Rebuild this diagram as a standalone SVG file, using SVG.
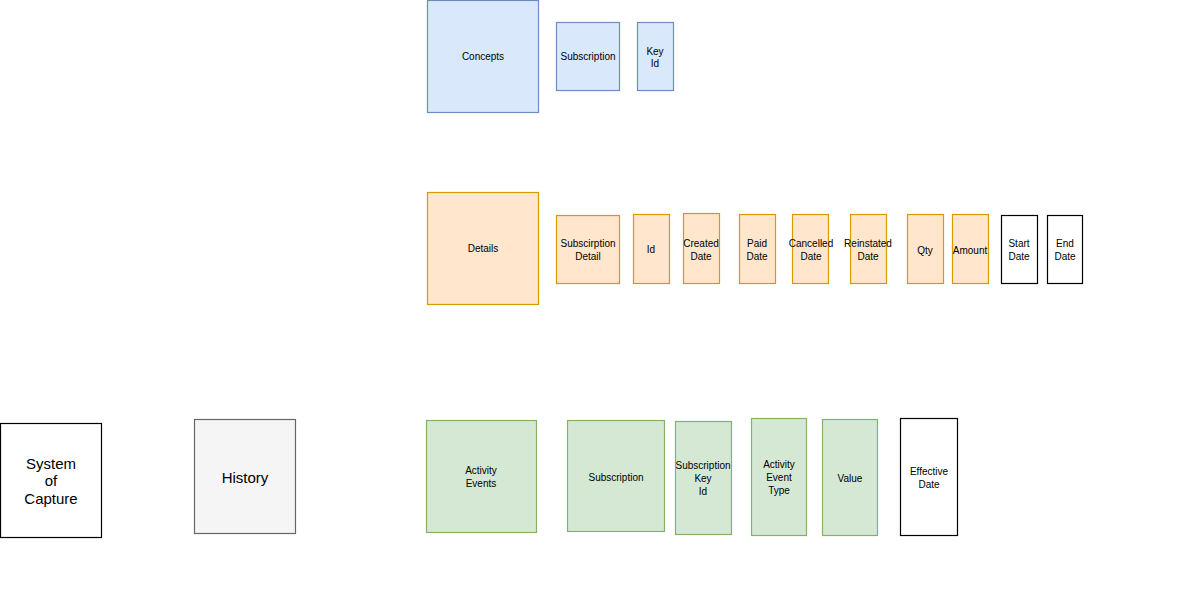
<svg xmlns="http://www.w3.org/2000/svg" width="1200" height="600" viewBox="0 0 1200 600">
<style>
.blue{fill:#dae8fc;stroke:#6c8ebf;stroke-width:1.2}
.orange{fill:#ffe6cc;stroke:#d79b00;stroke-width:1.2}
.green{fill:#d5e8d4;stroke:#82b366;stroke-width:1.2}
.white{fill:#ffffff;stroke:#000000;stroke-width:1.2}
.grey{fill:#f5f5f5;stroke:#666666;stroke-width:1.2}
text{font-family:"Liberation Sans",Arial,sans-serif;font-size:10px;fill:#000;text-anchor:middle}
.big{font-size:15px}
</style>
<rect width="1200" height="600" fill="#ffffff"/>
<g id="concepts"><rect class="blue" x="427.5" y="0.5" width="111" height="112"/><text x="483" y="60">Concepts</text></g>
<g id="subscription-top"><rect class="blue" x="556.5" y="22.5" width="63" height="68"/><text x="588" y="60">Subscription</text></g>
<g id="key-id"><rect class="blue" x="637.5" y="22.5" width="36" height="68"/><text x="655" y="55">Key</text><text x="655" y="67">Id</text></g>

<g id="details"><rect class="orange" x="427.5" y="192.5" width="111" height="112"/><text x="483" y="252">Details</text></g>
<g id="subscription-detail"><rect class="orange" x="556.5" y="215.5" width="63" height="68"/><text x="588" y="247">Subscirption</text><text x="588" y="260">Detail</text></g>
<g id="id"><rect class="orange" x="633.5" y="214.5" width="36" height="69"/><text x="651" y="253">Id</text></g>
<g id="created-date"><rect class="orange" x="683.5" y="213.5" width="36" height="70"/><text x="701" y="247">Created</text><text x="701" y="260">Date</text></g>
<g id="paid-date"><rect class="orange" x="739.5" y="214.5" width="36" height="69"/><text x="757" y="247">Paid</text><text x="757" y="260">Date</text></g>
<g id="cancelled-date"><rect class="orange" x="792.5" y="214.5" width="36" height="69"/><text x="811" y="247">Cancelled</text><text x="811" y="260">Date</text></g>
<g id="reinstated-date"><rect class="orange" x="850.5" y="214.5" width="36" height="69"/><text x="868" y="247">Reinstated</text><text x="868" y="260">Date</text></g>
<g id="qty"><rect class="orange" x="907.5" y="214.5" width="36" height="69"/><text x="925" y="254">Qty</text></g>
<g id="amount"><rect class="orange" x="952.5" y="214.5" width="36" height="69"/><text x="970" y="254">Amount</text></g>
<g id="start-date"><rect class="white" x="1001.5" y="215.5" width="36" height="68"/><text x="1019" y="247">Start</text><text x="1019" y="260">Date</text></g>
<g id="end-date"><rect class="white" x="1047.5" y="215.5" width="35" height="68"/><text x="1065" y="247">End</text><text x="1065" y="260">Date</text></g>

<g id="system-of-capture"><rect class="white" x="0.5" y="423.5" width="101" height="114"/><text class="big" x="51" y="469">System</text><text class="big" x="51" y="486">of</text><text class="big" x="51" y="504">Capture</text></g>
<g id="history"><rect class="grey" x="194.5" y="419.5" width="101" height="114"/><text class="big" x="245" y="483">History</text></g>

<g id="activity-events"><rect class="green" x="426.5" y="420.5" width="110" height="112"/><text x="481" y="474">Activity</text><text x="481" y="487">Events</text></g>
<g id="subscription-bottom"><rect class="green" x="567.5" y="420.5" width="97" height="111"/><text x="616" y="481">Subscription</text></g>
<g id="subscription-key-id"><rect class="green" x="675.5" y="421.5" width="56" height="113"/><text x="703" y="469">Subscription</text><text x="703" y="482">Key</text><text x="703" y="495">Id</text></g>
<g id="activity-event-type"><rect class="green" x="751.5" y="418.5" width="55" height="117"/><text x="779" y="468">Activity</text><text x="779" y="481">Event</text><text x="779" y="494">Type</text></g>
<g id="value"><rect class="green" x="822.5" y="419.5" width="55" height="116"/><text x="850" y="482">Value</text></g>
<g id="effective-date"><rect class="white" x="900.5" y="418.5" width="57" height="117"/><text x="929" y="475">Effective</text><text x="929" y="488">Date</text></g>

<g id="connectors"></g>
</svg>
